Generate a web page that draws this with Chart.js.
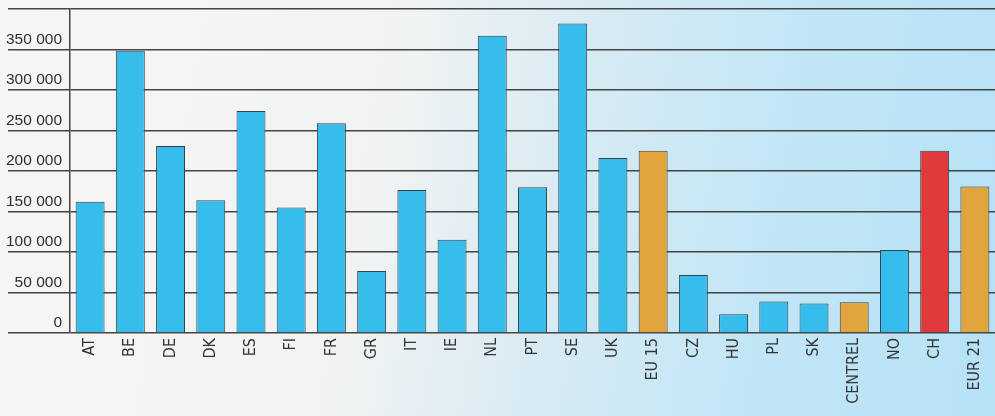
<!DOCTYPE html>
<html>
<head>
<meta charset="utf-8">
<script src="https://cdn.jsdelivr.net/npm/chart.js@4"></script>
<style>
  html, body { margin: 0; padding: 0; overflow: hidden; }
  body {
    width: 995px; height: 416px;
    background: linear-gradient(100deg, #f6f6f4 0%, #f1f3f3 38%, #d9ebf3 55%, #c3e6f6 75%, #b6e2f6 100%);
  }
  #wrap { width: 995px; height: 416px; }
</style>
</head>
<body>
<div id="wrap"><canvas id="myChart"></canvas></div>
<script>
const pays = ["AT", "BE", "DE", "DK", "ES", "FI", "FR", "GR", "IT", "IE", "NL", "PT", "SE", "UK",
  "EU 15", "CZ", "HU", "PL", "SK", "CENTREL", "NO", "CH", "EUR 21"];
const valeurs = [162000, 348500, 231000, 164000, 274000, 155000, 259000, 76500, 176500, 115000,
  367000, 180000, 382000, 216000, 225000, 71500, 23000, 39000, 36500, 38000, 102500, 225000, 181000];
// groupe : 0 = pays, 1 = agrégat, 2 = CH
const groupes = [0, 0, 0, 0, 0, 0, 0, 0, 0, 0, 0, 0, 0, 0, 1, 0, 0, 0, 0, 1, 0, 2, 1];
const ticksY = [0, 50000, 100000, 150000, 200000, 250000, 300000, 350000, 400000];

const couleurs = ["#36bdec", "#e2a43c", "#e03b3b"];

const config = {
  type: "bar",
  data: {
    labels: pays,
    datasets: [
      {
        label: "",
        data: valeurs,
        backgroundColor: groupes.map((g) => couleurs[g]),
        borderColor: "#37414a",
        borderWidth: 1,
        borderSkipped: "bottom",
        barPercentage: 0.72,
        categoryPercentage: 1,
      },
    ],
  },
  options: {
    responsive: true,
    maintainAspectRatio: false,
    animation: false,
    layout: { padding: { top: 9, left: 0, right: 0, bottom: 0 } },
    plugins: {
      legend: { display: false },
      tooltip: { enabled: false },
    },
    scales: {
      x: {
        grid: { display: false, drawTicks: false },
        border: { display: false },
        ticks: {
          minRotation: 90,
          maxRotation: 90,
          autoSkip: false,
          padding: 5,
          color: "#333",
          font: { family: "'Liberation Sans Narrow', 'DejaVu Sans Condensed', sans-serif", size: 16 },
        },
        afterFit: (scale) => {
          scale.height = 83;
          scale.paddingLeft = 0;
          scale.paddingRight = 0;
        },
      },
      y: {
        min: 0,
        max: 400000,
        afterBuildTicks: (scale) => { scale.ticks = ticksY.map((v) => ({ value: v })); },
        grid: { color: "#444", lineWidth: 1.5, tickLength: 62, drawTicks: true },
        border: { display: true, color: "#444", width: 1.5 },
        ticks: {
          padding: -54,
          labelOffset: -10,
          color: "#2e2e2e",
          font: { family: "'Liberation Sans', Arial, sans-serif", size: 15.5 },
          callback: (v) => (v === 400000 ? "" : v.toLocaleString("fr-FR").replace(/\s/g, " ")),
        },
        afterFit: (scale) => {
          scale.width = 70;
          scale.paddingTop = 0;
          scale.paddingBottom = 0;
        },
      },
    },
  },
};

new Chart(document.getElementById("myChart"), config);
</script>
</body>
</html>
